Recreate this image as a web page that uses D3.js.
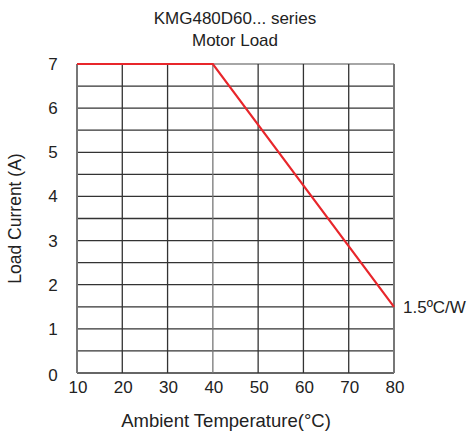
<!DOCTYPE html>
<html>
<head>
<meta charset="utf-8">
<script src="https://cdn.jsdelivr.net/npm/d3@7/dist/d3.min.js"></script>
<style>
  body { margin: 0; background: #fff; }
  text { font-family: "Liberation Sans", Arial, sans-serif; fill: #222; }
</style>
</head>
<body>
<div id="chart"></div>
<script>
// derating curve
const temps = [10, 40, 80]
const current = [7, 7, 1.5]
const xTicks = [10, 20, 30, 40, 50, 60, 70, 80]
const yTicks = [0, 1, 2, 3, 4, 5, 6, 7]
const titleLines = ['KMG480D60... series', 'Motor Load']
const curveLabel = '1.5ºC/W'

const W = 471, H = 434
const m = { left: 77, right: 394, top: 64, bottom: 373 }

const svg = d3.select('#chart').append('svg')
  .attr('width', W)
  .attr('height', H)

const x = d3.scaleLinear().domain([10, 80]).range([m.left, m.right])
const y = d3.scaleLinear().domain([0, 7]).range([m.bottom, m.top])

// grid: verticals every 10, horizontals every 0.5
const hLines = d3.range(0, 7.01, 0.5)

svg.append('g').selectAll('line')
  .data(hLines)
  .enter()
  .append('line')
  .attr('x1', m.left).attr('x2', m.right)
  .attr('y1', d => y(d)).attr('y2', d => y(d))
  .attr('stroke', d => d === 7 ? '#888' : '#333')
  .attr('stroke-width', 1.3)

svg.append('g').selectAll('line')
  .data(xTicks)
  .enter()
  .append('line')
  .attr('x1', d => x(d)).attr('x2', d => x(d))
  .attr('y1', m.top).attr('y2', m.bottom)
  .attr('stroke', d => (d === 10 || d === 80 || d === 40) ? '#777' : '#333')
  .attr('stroke-width', d => (d === 10 || d === 80) ? 2 : 1.3)

// tick labels
svg.append('g').selectAll('text')
  .data(xTicks)
  .enter()
  .append('text')
  .attr('x', d => x(d) + 1)
  .attr('y', m.bottom + 20)
  .attr('text-anchor', 'middle')
  .style('font-size', '17px')
  .text(d => d)

svg.append('g').selectAll('text')
  .data(yTicks)
  .enter()
  .append('text')
  .attr('x', 53)
  .attr('y', d => y(d) + 6 + (d === 0 ? 2 : 0))
  .attr('text-anchor', 'middle')
  .style('font-size', '17px')
  .text(d => d)

// curve
const pts = temps.map((t, i) => [t, current[i]])
svg.append('path')
  .datum(pts)
  .attr('fill', 'none')
  .attr('stroke', '#e8262b')
  .attr('stroke-width', 2.2)
  .attr('d', d3.line().x(d => x(d[0])).y(d => y(d[1])))

svg.append('text')
  .attr('x', x(80) + 9)
  .attr('y', y(1.5) + 6)
  .style('font-size', '17px')
  .text(curveLabel)

// titles
svg.append('g').selectAll('text')
  .data(titleLines)
  .enter()
  .append('text')
  .attr('x', 235)
  .attr('y', (d, i) => 24 + i * 22)
  .attr('text-anchor', 'middle')
  .style('font-size', '17px')
  .text(d => d)

svg.append('text')
  .attr('x', 226)
  .attr('y', 427)
  .attr('text-anchor', 'middle')
  .style('font-size', '18.5px')
  .text('Ambient Temperature(°C)')

svg.append('text')
  .attr('transform', 'translate(21,' + ((m.top + m.bottom) / 2) + ') rotate(-90)')
  .attr('text-anchor', 'middle')
  .style('font-size', '17.5px')
  .text('Load Current (A)')
</script>
</body>
</html>
